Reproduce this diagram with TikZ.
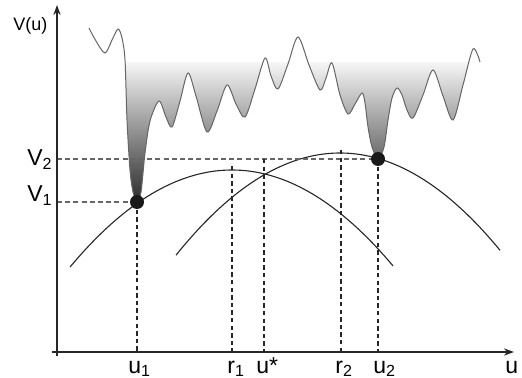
\documentclass[tikz,border=0pt]{standalone}
\usepackage{fontspec}
\setmainfont{Liberation Sans}
\usetikzlibrary{arrows.meta}
\begin{document}
\begin{tikzpicture}[x=0.5pt,y=-0.5pt,
  axisline/.style={line width=0.75pt,draw=black!85,-{Stealth[length=5pt,width=3.6pt]}},
  landline/.style={line width=0.5pt,draw=black!60},
  parab/.style={line width=0.55pt,draw=black!85},
  guide/.style={line width=0.55pt,draw=black!85,dash pattern=on 2.2pt off 1.6pt},
  hguide/.style={line width=0.65pt,draw=black!60,dash pattern=on 2.5pt off 1.6pt},
  mindot/.style={circle,fill=black!90,inner sep=0pt,minimum size=7pt},
  lab/.style={inner sep=0pt,font=\fontsize{11.5}{13}\selectfont},
  smalllab/.style={inner sep=0pt,font=\fontsize{9}{11}\selectfont}]
\useasboundingbox (0,0) rectangle (522,378);
% landscape points
\def\land{(89,28) (96,41) (105,53) (112,40) (118,29) (122,38) (125,60) (127,120) (130,170) (133,192) (137,201) (141,192) (145,153) (150,121) (159,101) (166,117) (172,127) (180,101) (188,73) (196,96) (207,132) (217,111) (227,85) (236,104) (245,117) (255,89) (265,58) (271,76) (278,89) (288,64) (298,37) (309,65) (320,90) (326,78) (332,63) (340,95) (348,114) (355,104) (362,93) (365,103) (368,127) (372,147) (378,159) (384,147) (388,120) (392,98) (397,88) (402,95) (407,110) (413,118) (423,95) (433,70) (443,96) (453,120) (463,85) (473,49) (480,62)}
% gradient fill
\begin{scope}
  \clip (0,63) rectangle (522,378);
  \clip plot[smooth,tension=0.5] coordinates {\land} -- (480,0) -- (89,0) -- cycle;
  \shade[top color=black!4,bottom color=black!85] (0,63) rectangle (522,205);
\end{scope}
\draw[landline] plot[smooth,tension=0.5] coordinates {\land};
% parabolas
\draw[parab] plot[domain=70:393,samples=80] (\x,{170+0.37*((\x-232)/10)^2});
\draw[parab] plot[domain=176:500,samples=80] (\x,{153+0.38*((\x-340)/10)^2});
% coordinates
\coordinate (xend) at (514,352);
\coordinate (xstart) at (52,352);
\coordinate (ystart) at (57,356);
\coordinate (yend) at (57,5);
\coordinate (m1) at (137,202);
\coordinate (m2) at (378,159);
\coordinate (V1) at (57,202);
\coordinate (V2) at (57,159);
\coordinate (u1b) at (137,352);
\coordinate (u2b) at (378,352);
\coordinate (r1t) at (232,166);
\coordinate (r1b) at (232,352);
\coordinate (ust) at (264,159);
\coordinate (usb) at (264,352);
\coordinate (r2t) at (341,150);
\coordinate (r2b) at (341,352);
% guides
\draw[hguide] (V2) -- (m2);
\draw[hguide] (V1) -- (m1);
\draw[guide] (m1) -- (u1b);
\draw[guide] (m2) -- (u2b);
\draw[guide] (r1t) -- (r1b);
\draw[guide] (ust) -- (usb);
\draw[guide] (r2t) -- (r2b);
% axes
\draw[axisline] (xstart) -- (xend);
\draw[axisline] (ystart) -- (yend);
% dots
\node[mindot] (d1) at (m1) {};
\node[mindot] (d2) at (m2) {};
% labels
\node[lab,anchor=base west] (lu1) at (128,373) {u\textsubscript{1}};
\node[lab,anchor=base west] (lr1) at (227,373) {r\textsubscript{1}};
\node[lab,anchor=base west] (lus) at (256,373) {u*};
\node[lab,anchor=base west] (lr2) at (335,373) {r\textsubscript{2}};
\node[lab,anchor=base west] (lu2) at (373,373) {u\textsubscript{2}};
\node[lab,anchor=base west] (lu) at (505,373) {u};
\node[lab,anchor=base west] (lV2) at (27,166) {V\textsubscript{2}};
\node[lab,anchor=base west] (lV1) at (27,202) {V\textsubscript{1}};
\node[smalllab,anchor=base west] (lVu) at (13,31) {V(u)};
\end{tikzpicture}
\end{document}
